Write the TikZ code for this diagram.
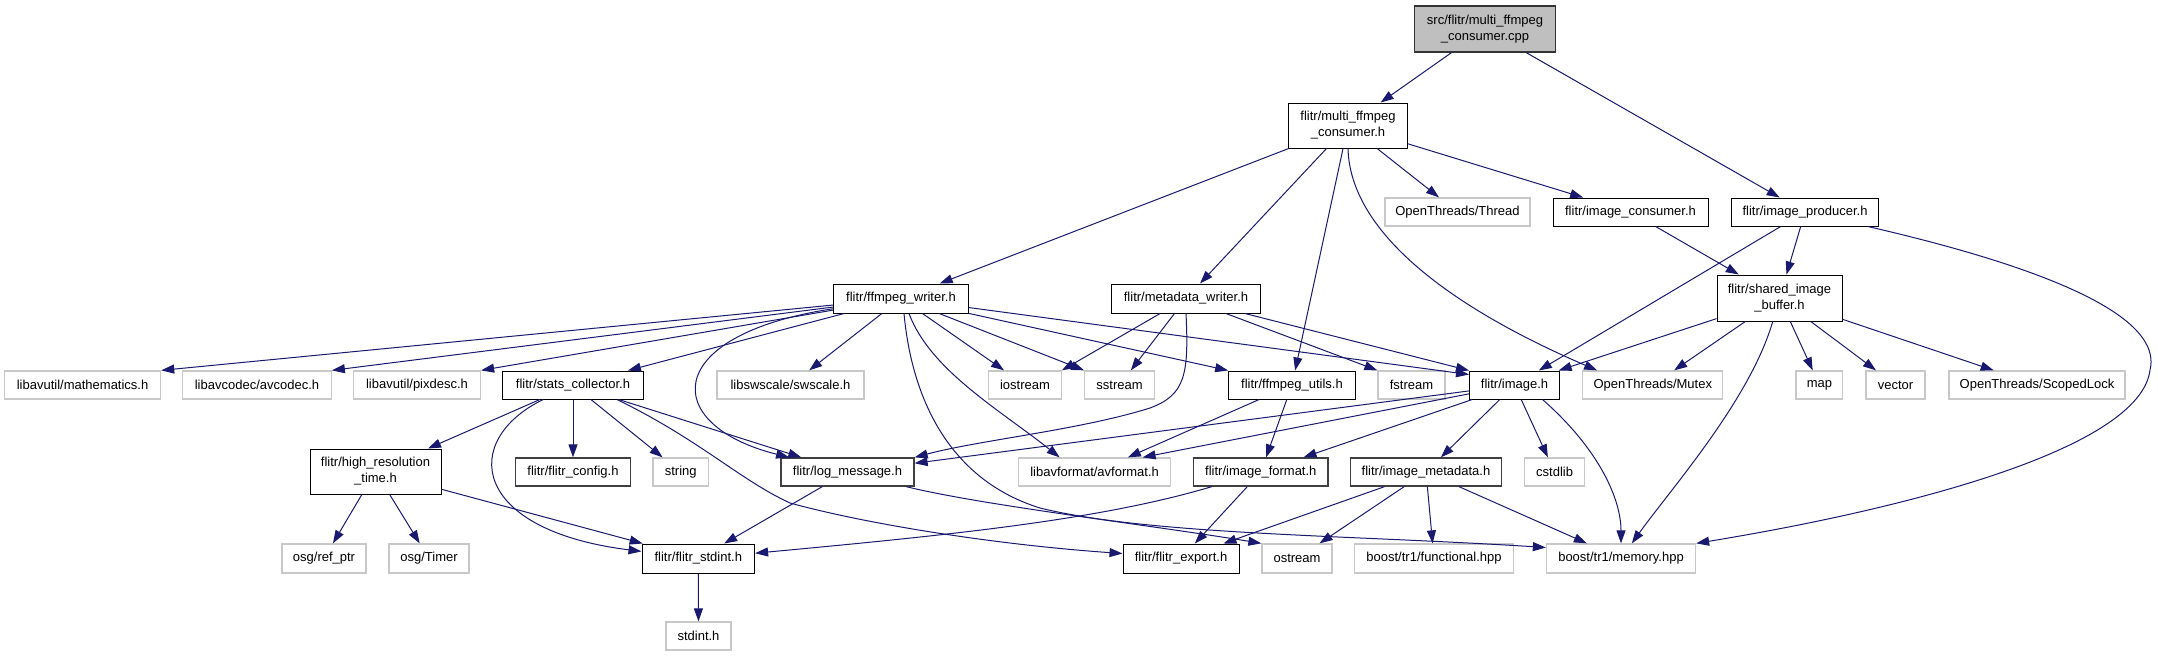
\documentclass[tikz,border=0pt]{standalone}
\usepackage{fontspec}
\setmainfont{Liberation Sans}
\usetikzlibrary{arrows.meta}
\definecolor{edgeblue}{HTML}{191970}
\definecolor{extgray}{HTML}{C8C8C8}
\definecolor{rootgray}{HTML}{BFBFBF}
\begin{document}
\begin{tikzpicture}[x=1pt,y=-1pt,
  base/.style={rectangle, inner sep=0pt, font=\fontsize{13}{16}\selectfont, align=center},
  doc/.style={base, draw=black, line width=1pt, fill=white},
  docd/.style={base, draw=black!75, line width=1.3pt, fill=white},
  ext/.style={base, draw=extgray, line width=1.3pt, fill=white},
  root/.style={base, draw=black!80, line width=1.2pt, fill=rootgray},
  dep/.style={draw=edgeblue, line width=1pt, -{Triangle[length=13pt,width=9pt]}},
]
\useasboundingbox (0,0) rectangle (2158,656);

% top
\node[root, minimum width=141.5pt, minimum height=46pt] (cpp) at (1485,29) {src/flitr/multi\_ffmpeg\\\_consumer.cpp};
\node[doc, minimum width=118.5pt, minimum height=45pt] (mfc) at (1348,125.5) {flitr/multi\_ffmpeg\\\_consumer.h};
\node[ext, minimum width=145pt, minimum height=28pt] (thread) at (1457.5,212) {OpenThreads/Thread};
\node[doc, minimum width=155pt, minimum height=28pt] (imgcons) at (1630.5,212) {flitr/image\_consumer.h};
\node[doc, minimum width=147pt, minimum height=28pt] (imgprod) at (1805,212) {flitr/image\_producer.h};
\node[doc, minimum width=125pt, minimum height=46pt] (sib) at (1779.5,298) {flitr/shared\_image\\\_buffer.h};
\node[doc, minimum width=135pt, minimum height=29pt] (ffw) at (901,298.5) {flitr/ffmpeg\_writer.h};
\node[doc, minimum width=148.6pt, minimum height=29pt] (mdw) at (1186,298.5) {flitr/metadata\_writer.h};

% row 385
\node[ext, minimum width=156pt, minimum height=28pt] (math) at (82.6,385) {libavutil/mathematics.h};
\node[ext, minimum width=148.5pt, minimum height=28pt] (avcodec) at (257,385) {libavcodec/avcodec.h};
\node[ext, minimum width=127pt, minimum height=28pt] (pixdesc) at (417,385) {libavutil/pixdesc.h};
\node[doc, minimum width=140.6pt, minimum height=28pt] (stats) at (573,385) {flitr/stats\_collector.h};
\node[ext, minimum width=147pt, minimum height=28pt] (swscale) at (790.5,385) {libswscale/swscale.h};
\node[ext, minimum width=72.5pt, minimum height=28pt] (iostream) at (1025,385) {iostream};
\node[ext, minimum width=69.7pt, minimum height=28pt] (sstream) at (1119.6,385) {sstream};
\node[doc, minimum width=126.7pt, minimum height=28pt] (ffu) at (1292,385) {flitr/ffmpeg\_utils.h};
\node[ext, minimum width=67pt, minimum height=28pt] (fstream) at (1411.5,385) {fstream};
\node[doc, minimum width=90pt, minimum height=28pt] (image) at (1514.5,385) {flitr/image.h};
\node[ext, minimum width=140pt, minimum height=28pt] (mutex) at (1652.8,385) {OpenThreads/Mutex};
\node[ext, minimum width=46.7pt, minimum height=28pt] (map) at (1819.4,385) {map};
\node[ext, minimum width=59pt, minimum height=28pt] (vector) at (1895.5,385) {vector};
\node[ext, minimum width=176pt, minimum height=28pt] (scoped) at (2037,385) {OpenThreads/ScopedLock};

% row 472
\node[doc, minimum width=131pt, minimum height=45pt] (hrt) at (375.5,471.5) {flitr/high\_resolution\\\_time.h};
\node[docd, minimum width=115pt, minimum height=28pt] (config) at (573,472) {flitr/flitr\_config.h};
\node[ext, minimum width=55.5pt, minimum height=28pt] (string) at (680.7,472) {string};
\node[docd, minimum width=133pt, minimum height=28pt] (logm) at (847.5,472) {flitr/log\_message.h};
\node[ext, minimum width=152pt, minimum height=28pt] (avformat) at (1094.6,472) {libavformat/avformat.h};
\node[docd, minimum width=134.4pt, minimum height=28pt] (imgfmt) at (1260.8,472) {flitr/image\_format.h};
\node[docd, minimum width=150.5pt, minimum height=28pt] (imgmeta) at (1426,472) {flitr/image\_metadata.h};
\node[ext, minimum width=60pt, minimum height=28pt] (cstdlib) at (1554.6,472) {cstdlib};

% row 558
\node[ext, minimum width=84pt, minimum height=29pt] (refptr) at (324,558.5) {osg/ref\_ptr};
\node[ext, minimum width=80pt, minimum height=29pt] (timer) at (429,558.5) {osg/Timer};
\node[doc, minimum width=112.6pt, minimum height=29pt] (fstdint) at (698.3,558.5) {flitr/flitr\_stdint.h};
\node[doc, minimum width=116pt, minimum height=29pt] (export) at (1181,558.5) {flitr/flitr\_export.h};
\node[ext, minimum width=70pt, minimum height=29pt] (ostream) at (1297,558.5) {ostream};
\node[ext, minimum width=159pt, minimum height=29pt] (functional) at (1434,558.5) {boost/tr1/functional.hpp};
\node[ext, minimum width=149pt, minimum height=29pt] (memory) at (1621,558.5) {boost/tr1/memory.hpp};

\node[ext, minimum width=65pt, minimum height=28pt] (stdint) at (698.5,636) {stdint.h};

% edges
\draw[dep] (cpp) -- (mfc);
\draw[dep] (cpp) -- (imgprod);

\draw[dep] (mfc) -- (ffw);
\draw[dep] (mfc) -- (mdw);
\draw[dep] (mfc) -- (ffu);
\draw[dep] (mfc) -- (thread);
\draw[dep] (mfc) -- (imgcons);
\draw[dep] (mfc.south) .. controls (1350,230) and (1445,305) .. ([xshift=15pt]mutex.north west);

\draw[dep] (imgcons) -- (sib);
\draw[dep] (imgprod) -- (sib);
\draw[dep] (imgprod) -- (image);
\draw[dep] (imgprod) .. controls (2100,280) and (2160,330) .. (2150,370) .. controls (2140,450) and (1900,510) .. (memory.north east);

\draw[dep] (sib) -- (image);
\draw[dep] (sib) -- (mutex);
\draw[dep] (sib) .. controls (1750,400) and (1670,490) .. (memory);
\draw[dep] (sib) -- (map);
\draw[dep] (sib) -- (vector);
\draw[dep] (sib) -- (scoped);

\draw[dep] (ffw) -- (math.north east);
\draw[dep] (ffw) -- (avcodec.north east);
\draw[dep] (ffw) -- (pixdesc.north east);
\draw[dep] (ffw) -- (stats);
\draw[dep] (ffw) .. controls (660,335) and (660,425) .. (logm);
\draw[dep] (ffw) -- (swscale);
\draw[dep] ([xshift=3pt]ffw.south) .. controls (912,400) and (950,480) .. (1040,508) .. controls (1150,535) and (1350,535) .. ([yshift=11pt]memory.west);
\draw[dep] ([xshift=8pt]ffw.south) .. controls (930,370) and (1000,410) .. ([xshift=-35pt]avformat.north);
\draw[dep] (ffw) -- (iostream);
\draw[dep] (ffw) -- (sstream.north west);
\draw[dep] (ffw) -- (ffu.north west);
\draw[dep] (ffw) -- ([yshift=-4pt]image.north west);

\draw[dep] (mdw) -- (iostream.north east);
\draw[dep] (mdw) -- (sstream);
\draw[dep] (mdw.south) .. controls (1189,375) and (1185,395) .. (1150,408) .. controls (1080,430) and (980,440) .. (logm.north east);
\draw[dep] (mdw) -- (fstream.north west);
\draw[dep] (mdw) -- (image.north west);

\draw[dep] (ffu) -- (avformat);
\draw[dep] (ffu) -- (imgfmt);

\draw[dep] (image) -- (logm);
\draw[dep] (image) -- ([xshift=48pt]avformat.north);
\draw[dep] (image) -- (imgfmt);
\draw[dep] (image) -- (imgmeta);
\draw[dep] (image) -- (cstdlib);
\draw[dep] ([xshift=28pt]image.south) .. controls (1600,450) and (1621,500) .. (memory.north);

\draw[dep] (imgfmt) .. controls (1100,520) and (950,535) .. (fstdint);
\draw[dep] (imgfmt) -- (export);
\draw[dep] (imgmeta) -- (export);
\draw[dep] (imgmeta) -- (ostream);
\draw[dep] (imgmeta) -- (functional);
\draw[dep] (imgmeta) -- (memory);

\draw[dep] (logm) -- (fstdint);
\draw[dep] (logm) .. controls (980,505) and (1150,525) .. (ostream.north west);

\draw[dep] (stats) -- (hrt);
\draw[dep] (stats) .. controls (460,440) and (470,530) .. (fstdint);
\draw[dep] (stats) -- (config);
\draw[dep] (stats) -- (string);
\draw[dep] (stats) -- (logm);
\draw[dep] ([xshift=44pt]stats.south) .. controls (700,440) and (740,480) .. (790,503) .. controls (870,525) and (1000,545) .. ([yshift=5pt]export.west);

\draw[dep] (hrt) -- (refptr);
\draw[dep] (hrt) -- (timer);
\draw[dep] (hrt) -- (fstdint);
\draw[dep] (fstdint) -- (stdint);
\end{tikzpicture}
\end{document}
